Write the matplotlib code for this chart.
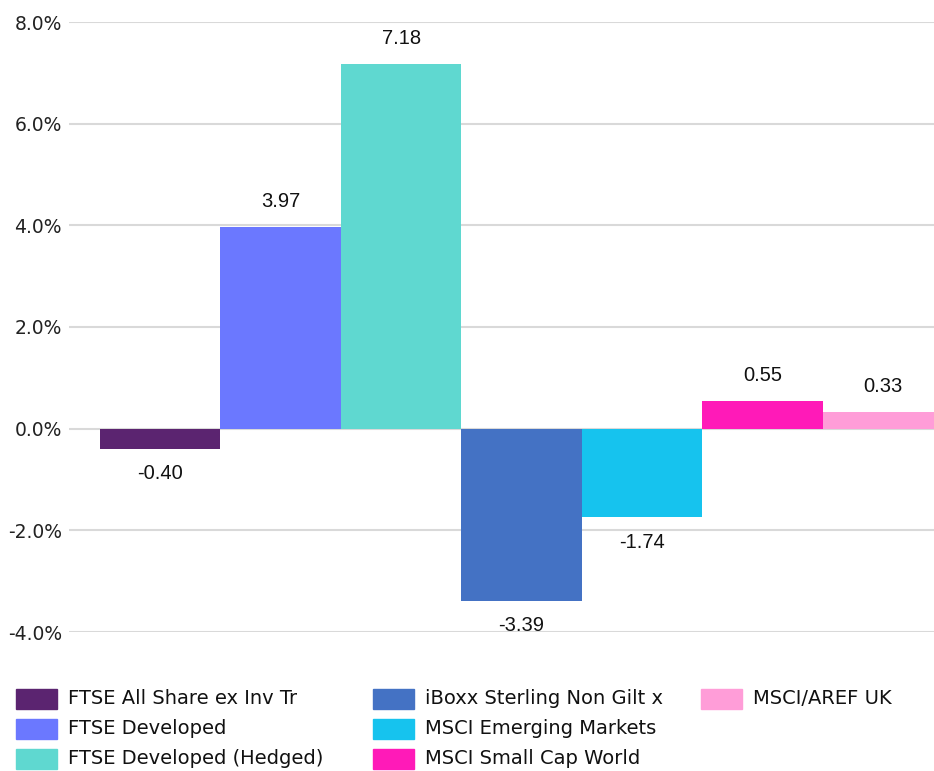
import matplotlib.pyplot as plt
from matplotlib.patches import Rectangle
from matplotlib.ticker import FuncFormatter

# 数据
names = ['FTSE All Share ex Inv Tr', 'FTSE Developed', 'FTSE Developed (Hedged)',
         'iBoxx Sterling Non Gilt x', 'MSCI Emerging Markets', 'MSCI Small Cap World',
         'MSCI/AREF UK']
values = [-0.40, 3.97, 7.18, -3.39, -1.74, 0.55, 0.33]
colors = ['#5B2470', '#6B78FF', '#5FD8D0', '#4472C4', '#16C3EE', '#FF1AB8', '#FF9DD8']
yticks = [-4, -2, 0, 2, 4, 6, 8]

W, H = 934, 771
fig = plt.figure(figsize=(W / 100, H / 100), dpi=100)

# plot area runs past the right edge of the picture
left, right = 69, 974
top, bottom = 22, 632
ax = fig.add_axes([left / W, 1 - bottom / H, (right - left) / W, (bottom - top) / H])

n = len(values)
xs = list(range(n))
ax.bar(xs, values, width=1.0, color=colors, zorder=3)
# ~31px empty space each side of the bar group
bw = (right - left - 62) / n
pad = 31 / bw
ax.set_xlim(-0.5 - pad, n - 0.5 + pad)
ax.set_ylim(-4, 8)
ax.set_yticks(yticks)
ax.yaxis.set_major_formatter(FuncFormatter(lambda v, p: f'{v:.1f}%'))
ax.set_xticks([])
ax.grid(axis='y', color='#D9D9D9', linewidth=1.5, zorder=0)
for s in ax.spines.values():
    s.set_visible(False)
ax.tick_params(axis='y', length=0, pad=5, labelsize=13.5, labelcolor='#222222')
for lab in ax.get_yticklabels():
    lab.set_family('DejaVu Sans')

for x, v in zip(xs, values):
    ax.annotate(f'{v:.2f}', (x, v), xytext=(0, 18 if v > 0 else -18),
                textcoords='offset points', ha='center', va='center',
                fontsize=14.5, family='Liberation Sans', color='#111111')

# legend drawn by hand: 3 columns
col_x = [16, 373, 701]
row_y = [699, 729, 759]
for i, (nm, c) in enumerate(zip(names, colors)):
    col, row = i // 3, i % 3
    x0, y0 = col_x[col], row_y[row]
    fig.add_artist(Rectangle((x0 / W, 1 - (y0 + 10) / H), 41 / W, 20 / H,
                             color=c, transform=fig.transFigure))
    fig.text((x0 + 52) / W, 1 - y0 / H, nm, va='center', ha='left',
             fontsize=14, family='DejaVu Sans', color='#111111')

fig.savefig('out.png', dpi=100)
